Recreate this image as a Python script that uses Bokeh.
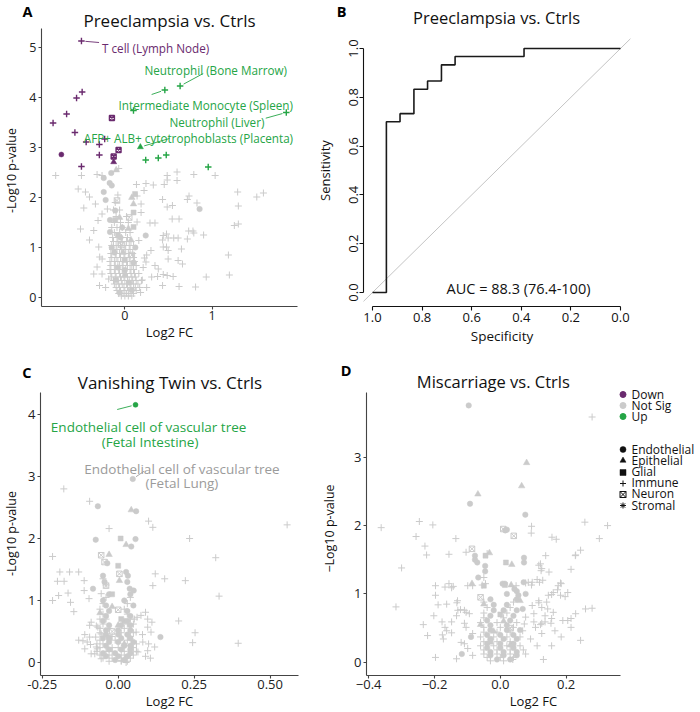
import math
from bokeh.plotting import figure
from bokeh.models import (Label, Legend, LegendItem, FixedTicker, Range1d, ColumnDataSource,
                          LinearAxis, Title)
from bokeh.layouts import row, column
from bokeh.embed import file_html
from bokeh.resources import INLINE
from bokeh.core.properties import value

# ============================================================ DATA
# ---- Panel A: Preeclampsia vs. Ctrls  (log2 FC, -log10 p, cell class)
a_title = "Preeclampsia vs. Ctrls"
a_up = [
    (0.633, 4.23, "Immune"), (0.458, 4.15, "Immune"), (0.099, 3.74, "Immune"),
    (1.849, 3.70, "Immune"), (0.178, 3.01, "Epithelial"), (0.239, 2.75, "Immune"),
    (0.383, 2.79, "Immune"), (0.474, 2.85, "Immune"), (0.955, 2.61, "Immune"),
]
a_down = [
    (-0.497, 5.13, "Immune"), (-0.489, 4.11, "Immune"), (-0.553, 3.99, "Immune"),
    (-0.667, 3.67, "Immune"), (-0.822, 3.49, "Immune"), (-0.572, 3.30, "Immune"),
    (-0.443, 3.11, "Immune"), (-0.231, 3.17, "Immune"), (-0.727, 2.86, "Endothelial"),
    (-0.292, 3.06, "Immune"), (-0.292, 2.85, "Immune"), (-0.148, 3.59, "Neuron"),
    (-0.072, 2.95, "Neuron"), (-0.128, 2.82, "Neuron"), (-0.128, 2.71, "Epithelial"),
    (-0.497, 2.62, "Immune"),
]
a_ns_immune = [
    (-0.792, 2.44), (-0.497, 2.44), (-0.318, 2.46), (-0.261, 2.44), (-0.07, 2.58),
    (0.485, 2.44), (0.598, 2.51), (0.79, 2.46), (1.034, 2.44), (0.133, 2.26),
    (0.242, 2.28), (0.326, 2.25), (0.451, 2.26), (0.598, 2.34), (0.485, 2.35),
    (0.22, 2.14), (1.292, 2.11), (1.3, 1.83), (1.511, 2.01), (1.587, 2.09),
    (0.432, 1.96), (0.735, 2.03), (0.716, 1.96), (0.826, 1.89), (0.485, 1.81),
    (0.545, 1.84), (0.186, 1.87), (0.186, 1.70), (0.542, 1.57), (0.621, 1.57),
    (0.288, 1.49), (0.345, 1.49), (1.254, 1.44), (1.3, 1.47), (0.477, 1.27),
    (0.44, 1.24), (0.432, 1.15), (0.496, 1.19), (0.56, 1.19), (0.61, 1.19),
    (0.716, 1.17), (0.731, 1.33), (0.78, 1.33), (0.79, 1.29), (0.902, 1.25),
    (0.44, 1.01), (0.477, 1.01), (0.496, 0.94), (0.648, 0.97), (0.299, 0.94),
    (0.25, 0.85), (0.224, 0.79), (0.242, 0.71), (1.186, 0.85), (0.496, 0.77),
    (0.61, 0.74), (0.66, 0.67), (0.345, 0.64), (0.383, 0.57), (1.197, 0.45),
    (0.932, 0.41), (0.44, 0.46), (0.375, 0.42), (0.307, 0.41), (0.485, 0.44),
    (0.553, 0.42), (0.621, 0.22), (0.81, 0.21), (0.432, 0.24),
    (-0.534, 2.17), (-0.451, 2.11), (-0.405, 2.01), (-0.337, 1.87), (-0.47, 1.79),
    (-0.261, 1.67), (-0.307, 1.54), (-0.356, 1.34), (-0.508, 1.37), (-0.405, 1.15),
    (-0.299, 1.01), (-0.288, 0.81), (-0.26, 0.77), (-0.318, 0.61), (-0.356, 0.47),
    (-0.261, 0.47), (-0.29, 0.24), (-0.185, 0.37), (-0.2, 1.77), (0.16, 1.14),
    (0.14, 1.51), (0.14, 2.03), (0.21, 0.6), (0.2, 0.35), (0.25, 0.2),
    (0.18, 0.1), (-0.22, 0.2),
    (-0.04, 0.03), (0.0, 0.03), (0.04, 0.03), (0.08, 0.03),
    (-0.07, 0.08), (-0.02, 0.08), (0.02, 0.08), (0.06, 0.08), (0.1, 0.08),
    (-0.09, 0.14), (-0.05, 0.14), (0.0, 0.14), (0.04, 0.14), (0.09, 0.14), (0.13, 0.14),
    (-0.1, 0.2), (-0.06, 0.2), (-0.01, 0.2), (0.03, 0.2), (0.07, 0.2), (0.12, 0.2), (0.17, 0.2),
    (-0.12, 0.27), (-0.07, 0.27), (-0.03, 0.27), (0.02, 0.27), (0.06, 0.27), (0.1, 0.27), (0.15, 0.27),
    (-0.13, 0.34), (-0.08, 0.34), (-0.04, 0.34), (0.0, 0.34), (0.05, 0.34), (0.09, 0.34), (0.13, 0.34), (0.19, 0.34),
    (-0.15, 0.41), (-0.1, 0.41), (-0.05, 0.41), (-0.01, 0.41), (0.03, 0.41), (0.08, 0.41), (0.12, 0.41),
    (-0.16, 0.48), (-0.11, 0.48), (-0.06, 0.48), (-0.02, 0.48), (0.02, 0.48), (0.07, 0.48), (0.11, 0.48), (0.16, 0.48),
    (-0.17, 0.56), (-0.12, 0.56), (-0.07, 0.56), (-0.03, 0.56), (0.01, 0.56), (0.06, 0.56), (0.1, 0.56),
    (-0.16, 0.64), (-0.11, 0.64), (-0.06, 0.64), (-0.02, 0.64), (0.03, 0.64), (0.08, 0.64), (0.13, 0.64),
    (-0.17, 0.72), (-0.12, 0.72), (-0.08, 0.72), (-0.03, 0.72), (0.02, 0.72), (0.06, 0.72), (0.11, 0.72),
    (-0.15, 0.8), (-0.1, 0.8), (-0.05, 0.8), (0.0, 0.8), (0.05, 0.8), (0.1, 0.8),
    (-0.16, 0.88), (-0.11, 0.88), (-0.06, 0.88), (-0.01, 0.88), (0.04, 0.88), (0.09, 0.88),
    (-0.14, 0.96), (-0.09, 0.96), (-0.04, 0.96), (0.01, 0.96), (0.06, 0.96),
    (-0.15, 1.04), (-0.1, 1.04), (-0.05, 1.04), (0.0, 1.04), (0.05, 1.04), (0.1, 1.04),
    (-0.13, 1.12), (-0.08, 1.12), (-0.03, 1.12), (0.02, 1.12), (0.07, 1.12),
    (-0.14, 1.2), (-0.09, 1.2), (-0.04, 1.2), (0.03, 1.2),
    (-0.12, 1.3), (-0.06, 1.3), (0.01, 1.3), (0.06, 1.3),
    (-0.15, 1.4), (-0.09, 1.4), (-0.03, 1.4), (-0.12, 1.5), (-0.05, 1.5), (0.04, 1.5),
    (-0.1, 1.62), (0.02, 1.62), (-0.13, 1.75), (-0.06, 1.75), (-0.11, 1.9), (-0.08, 2.05),
]
a_ns_endo = [
    (-0.242, 2.39), (-0.156, 2.49), (-0.174, 2.29), (-0.15, 2.24), (-0.242, 2.11),
    (-0.22, 1.95), (-0.11, 1.74), (-0.17, 1.55), (-0.17, 1.31), (-0.03, 1.4),
    (0.239, 1.24), (0.856, 1.77), (-0.12, 0.9), (-0.08, 0.6), (0.05, 0.3),
    (-0.15, 1.0), (0.1, 0.7), (-0.05, 1.2), (0.12, 1.0), (-0.1, 0.35),
    (0.0, 0.55), (0.08, 0.15), (-0.06, 0.1),
]
a_ns_epi = [(-0.099, 2.55), (0.099, 1.87), (0.08, 2.0), (0.04, 1.38), (-0.02, 0.9),
            (0.07, 1.15), (0.0, 0.45), (-0.06, 1.6)]
a_ns_glial = [(0.117, 2.07), (0.1, 1.70), (-0.11, 1.55), (0.1, 1.41), (0.0, 0.75), (-0.08, 1.25)]
a_ns_neuron = [(-0.09, 1.94), (0.05, 1.6), (-0.04, 1.05), (0.08, 0.85)]
a_xticks = [0, 1]
a_xtick_labels = ["0", "1"]
a_yticks = [0, 1, 2, 3, 4, 5]

# ---- Panel B: ROC curve, Preeclampsia vs. Ctrls
b_spec = [1.0, 0.944, 0.944, 0.889, 0.889, 0.833, 0.833, 0.778, 0.778,
          0.722, 0.722, 0.667, 0.667, 0.389, 0.389, 0.0]
b_sens = [0.0, 0.0, 0.7, 0.7, 0.733, 0.733, 0.833, 0.833, 0.867,
          0.867, 0.933, 0.933, 0.967, 0.967, 1.0, 1.0]
b_chance_spec = [1.04, -0.04]          # chance diagonal: sensitivity = 1 - specificity
b_auc_text = "AUC = 88.3 (76.4-100)"
b_ticks = [0.0, 0.2, 0.4, 0.6, 0.8, 1.0]
b_tick_labels = ["0.0", "0.2", "0.4", "0.6", "0.8", "1.0"]

# ---- Panel C: Vanishing Twin vs. Ctrls
c_title = "Vanishing Twin vs. Ctrls"
c_up = [(0.057, 4.156, "Endothelial")]
c_ns_immune = [
    (-0.179, 2.80), (-0.094, 2.60), (-0.03, 2.16), (0.1, 2.28), (0.114, 2.18),
    (0.235, 2.0), (0.556, 2.22), (0.321, 1.69), (0.332, 1.07), (0.221, 1.32),
    (0.153, 1.35), (0.122, 1.43), (0.114, 1.24), (0.199, 0.67), (0.253, 0.48),
    (0.245, 0.32), (0.395, 0.31), (0.106, 0.07), (-0.216, 1.71), (-0.192, 1.46),
    (-0.2, 1.31), (-0.178, 1.31), (-0.16, 1.46), (-0.13, 1.46), (-0.216, 1.0),
    (-0.196, 1.08), (-0.165, 1.12), (-0.157, 0.97), (-0.146, 0.82), (-0.112, 1.32),
    (-0.112, 1.16), (-0.096, 1.03), (-0.056, 1.11), (-0.116, 0.35), (-0.102, 0.33),
    (-0.091, 0.29), (-0.089, 0.65), (-0.072, 0.59), (-0.094, 0.41), (-0.074, 0.41),
    (-0.067, 0.57), (-0.056, 0.46), (-0.094, 0.6), (-0.072, 0.25), (-0.077, 0.14),
    (0.053, 0.7), (0.062, 0.73), (0.075, 0.76), (0.09, 0.81), (0.097, 0.7),
    (0.111, 0.65), (0.097, 0.57), (0.108, 0.49), (0.059, 0.49), (0.081, 0.33),
    (0.097, 0.19), (0.065, 0.17), (-0.089, 0.14), (-0.11, 0.22), (-0.069, 0.22),
    (-0.056, 0.06), (0.01, 0.03), (0.026, 0.0), (-0.11, 0.45), (-0.13, 0.36),
    (0.08, 0.45), (0.1, 0.3), (0.12, 0.25), (0.09, 0.1),
    (-0.03, 0.02), (0.01, 0.02), (0.03, 0.02),
    (-0.05, 0.07), (-0.02, 0.07), (0.02, 0.07), (0.04, 0.07),
    (-0.06, 0.12), (-0.03, 0.12), (0.01, 0.12), (0.05, 0.12),
    (-0.07, 0.18), (-0.04, 0.18), (-0.02, 0.18), (0.02, 0.18), (0.06, 0.18),
    (-0.06, 0.24), (-0.02, 0.24), (0.0, 0.24), (0.05, 0.24),
    (-0.07, 0.3), (-0.05, 0.3), (0.02, 0.3), (0.06, 0.3),
    (-0.06, 0.36), (-0.01, 0.36), (0.03, 0.36), (-0.05, 0.42), (-0.02, 0.42), (0.04, 0.42),
    (-0.06, 0.48), (0.01, 0.48), (0.05, 0.48), (-0.06, 0.55), (-0.03, 0.55), (0.02, 0.55),
    (-0.05, 0.62), (0.03, 0.62), (0.05, 0.62), (-0.06, 0.7), (-0.04, 0.7), (0.04, 0.7),
    (-0.05, 0.78), (0.03, 0.78), (-0.06, 0.86), (0.02, 0.86),
    (-0.05, 0.95), (0.03, 0.95), (-0.04, 1.05), (0.04, 1.05), (-0.04, 1.25), (-0.05, 1.35),
]
c_ns_endo = [
    (-0.067, 2.52), (-0.074, 1.98), (0.059, 2.44), (0.057, 1.99), (0.043, 1.87),
    (0.139, 0.41), (0.048, 2.96), (-0.083, 1.19), (0.051, 1.16), (0.038, 1.19),
    (-0.01, 0.04), (0.02, 0.04), (-0.04, 0.1), (0.0, 0.1), (0.03, 0.1),
    (-0.05, 0.15), (-0.01, 0.15), (0.04, 0.15), (-0.03, 0.21), (0.01, 0.21), (0.04, 0.21),
    (-0.04, 0.27), (0.02, 0.27), (0.04, 0.27), (-0.03, 0.33), (0.0, 0.33), (0.05, 0.33),
    (-0.05, 0.39), (-0.03, 0.39), (0.01, 0.39), (0.04, 0.39),
    (-0.04, 0.45), (0.0, 0.45), (0.03, 0.45), (-0.04, 0.52), (0.0, 0.52), (0.04, 0.52),
    (-0.03, 0.6), (0.01, 0.6), (0.04, 0.6), (-0.05, 0.67), (0.02, 0.67), (0.03, 0.67),
    (-0.04, 0.75), (0.04, 0.75), (-0.03, 0.83), (0.03, 0.83), (-0.04, 0.92), (0.05, 0.92),
    (-0.05, 1.0), (0.02, 1.0), (-0.03, 1.1), (0.04, 1.1), (-0.045, 1.3), (0.03, 1.3),
    (0.032, 1.4), (-0.05, 1.4), (0.026, 1.46), (-0.036, 1.6),
]
c_ns_epi = [(0.043, 2.46), (0.026, 1.90), (-0.03, 1.74), (0.004, 1.32), (-0.02, 0.9),
            (0.0, 0.6), (0.02, 0.3), (-0.06, 0.8)]
c_ns_glial = [(0.008, 2.0), (0.0, 1.56), (-0.02, 1.1), (0.01, 0.7), (-0.03, 0.4)]
c_ns_neuron = [(-0.056, 1.73), (-0.045, 1.62), (0.004, 1.43), (-0.04, 1.24), (0.0, 0.85), (-0.02, 0.5)]
c_xticks = [-0.25, 0, 0.25, 0.5]
c_xtick_labels = ["-0.25", "0.00", "0.25", "0.50"]
c_yticks = [0, 1, 2, 3, 4]

# ---- Panel D: Miscarriage vs. Ctrls
d_title = "Miscarriage vs. Ctrls"
d_ns_immune = [
    (0.279, 3.59), (-0.246, 2.06), (-0.205, 2.01), (-0.362, 1.97), (-0.256, 1.84),
    (-0.229, 1.70), (-0.224, 1.57), (-0.135, 1.81), (-0.3, 1.38), (-0.156, 1.58),
    (0.095, 1.99), (0.094, 1.89), (0.257, 2.05), (0.326, 2.0), (0.301, 1.81),
    (0.157, 1.83), (0.17, 1.80), (0.244, 1.64), (0.228, 1.56), (0.138, 1.56),
    (0.215, 1.36), (0.122, 1.44), (0.126, 1.37), (-0.317, 0.81), (-0.234, 0.55),
    (-0.197, 0.07), (-0.133, 0.05), (0.131, 0.04), (0.244, 0.32), (0.279, 0.79),
    (0.205, 0.61), (0.102, 0.59), (0.126, 0.57), (0.154, 0.57), (0.176, 1.12),
    (0.183, 0.98), (0.156, 0.99), (0.141, 0.88), (0.117, 0.87), (0.097, 0.83),
    (0.102, 0.71), (0.136, 0.68), (0.161, 0.73), (0.097, 1.17), (0.112, 1.21),
    (0.077, 1.16), (0.048, 1.12), (-0.197, 1.12), (-0.168, 1.10), (-0.148, 1.09),
    (-0.197, 0.98), (-0.189, 0.84), (-0.202, 0.68), (-0.177, 0.59), (-0.168, 0.51),
    (-0.176, 0.40), (-0.148, 0.43), (-0.132, 0.87), (-0.121, 0.77), (-0.133, 0.68),
    (-0.104, 0.73), (-0.119, 0.29), (-0.099, 0.20), (-0.084, 0.10), (-0.099, 1.12),
    (-0.084, 1.12), (-0.04, 1.59), (-0.05, 1.24), (-0.055, 1.13), (-0.045, 1.15),
    (0.085, 1.17), (0.095, 1.13), (0.119, 1.17), (0.129, 1.20), (0.148, 1.32),
    (0.117, 1.42), (0.124, 1.34), (0.229, 1.57), (0.183, 1.16), (0.174, 1.06),
    (0.161, 1.02), (0.146, 0.98), (0.117, 0.90), (0.126, 0.80), (0.144, 0.78),
    (0.197, 0.96), (0.205, 1.02), (0.229, 0.71), (0.215, 0.64), (0.259, 0.78),
    (0.156, 0.64), (0.136, 0.59), (0.122, 0.55), (0.107, 0.51), (0.077, 0.66),
    (0.073, 0.56), (0.068, 0.46), (0.19, 0.61), (0.166, 0.46), (0.126, 0.42),
    (-0.156, 1.15), (-0.143, 1.11), (-0.104, 1.61), (-0.163, 0.85), (-0.13, 0.90),
    (-0.109, 0.76), (-0.094, 0.71), (-0.148, 0.59), (-0.109, 0.57), (-0.129, 0.76),
    (-0.104, 0.51), (-0.084, 0.42), (-0.163, 0.46), (-0.221, 0.39), (-0.173, 0.34),
    (-0.109, 0.27), (0.092, 0.34), (0.112, 0.24), (0.077, 0.12), (0.156, 0.24),
    (0.185, 0.37), (0.215, 0.51), (0.038, 0.04), (0.185, 1.15),
    (-0.03, 0.02), (0.01, 0.02), (-0.04, 0.07), (0.0, 0.07), (0.04, 0.07),
    (-0.05, 0.12), (-0.01, 0.12), (0.03, 0.12), (-0.05, 0.18), (-0.01, 0.18), (0.03, 0.18), (0.07, 0.18),
    (-0.06, 0.24), (-0.02, 0.24), (0.02, 0.24), (0.06, 0.24), (-0.05, 0.3), (-0.01, 0.3), (0.03, 0.3),
    (-0.06, 0.37), (-0.02, 0.37), (0.02, 0.37), (0.06, 0.37), (-0.05, 0.44), (-0.01, 0.44), (0.03, 0.44),
    (-0.05, 0.51), (0.0, 0.51), (0.04, 0.51), (-0.06, 0.58), (-0.01, 0.58), (0.05, 0.58),
    (-0.05, 0.65), (0.01, 0.65), (-0.05, 0.72), (0.02, 0.72), (-0.04, 0.8), (0.03, 0.8),
    (-0.05, 0.88), (0.04, 0.88),
]
d_ns_endo = [
    (-0.096, 3.76), (-0.092, 2.32), (0.076, 2.16), (0.015, 1.93), (0.02, 1.94),
    (-0.077, 1.56), (-0.077, 1.50), (-0.07, 1.46), (-0.046, 1.41), (-0.046, 1.33),
    (-0.067, 1.24), (0.072, 1.53), (0.072, 1.46), (0.071, 1.17), (0.007, 1.15),
    (0.014, 1.15), (0.043, 1.07), (0.05, 1.04), (0.055, 0.98), (0.068, 0.78),
    (-0.117, 0.12), (-0.089, 0.37),
    (-0.01, 0.04), (0.03, 0.04), (-0.03, 0.1), (0.01, 0.1), (0.05, 0.1),
    (-0.03, 0.15), (0.01, 0.15), (0.05, 0.15), (-0.04, 0.21), (0.0, 0.21), (0.04, 0.21),
    (-0.04, 0.27), (0.0, 0.27), (0.04, 0.27), (-0.03, 0.34), (0.01, 0.34), (0.05, 0.34),
    (-0.04, 0.4), (0.0, 0.4), (0.04, 0.4), (-0.03, 0.47), (0.02, 0.47), (0.06, 0.47),
    (-0.03, 0.54), (0.02, 0.54), (-0.04, 0.61), (0.03, 0.61), (-0.03, 0.68), (0.04, 0.68),
    (-0.02, 0.76), (0.01, 0.76), (0.05, 0.76), (-0.02, 0.84), (0.02, 0.84),
    (-0.03, 0.92), (0.05, 0.92), (0.077, 1.0), (0.02, 1.0),
]
d_ns_epi = [(0.08, 2.92), (0.065, 2.58), (-0.068, 2.46), (-0.033, 1.60), (0.035, 1.43),
            (-0.086, 1.15), (0.033, 1.13), (-0.05, 0.85), (0.01, 0.6), (-0.02, 0.45),
            (0.03, 0.25), (0.06, 0.9), (-0.06, 0.55)]
d_ns_glial = [(-0.045, 1.56), (0.017, 1.46), (-0.05, 1.12), (0.014, 1.13), (0.0, 0.7), (-0.03, 0.3)]
d_ns_neuron = [(-0.086, 1.66), (0.009, 1.95), (0.041, 1.85), (-0.06, 0.95), (0.03, 0.5)]
d_xticks = [-0.4, -0.2, 0, 0.2]
d_xtick_labels = ["\u22120.4", "\u22120.2", "0.0", "0.2"]
d_yticks = [0, 1, 2, 3]

status_levels = ["Down", "Not Sig", "Up"]
cell_levels = ["Endothelial", "Epithelial", "Glial", "Immune", "Neuron", "Stromal"]

# ============================================================ STYLE / LAYOUT
FONT = "Open Sans"
STATUS_COLOR = {"Down": "#6a2a6e", "Not Sig": "#cbcbcb", "Up": "#25a546"}
LABEL_GRAY = "#9b9b9b"
MARKER = {"Endothelial": "circle", "Epithelial": "triangle", "Glial": "square",
          "Immune": "cross", "Neuron": "square_x", "Stromal": "asterisk"}
SIZE = {"Endothelial": 5.5, "Epithelial": 6.5, "Glial": 5.0, "Immune": 7.0,
        "Neuron": 5.5, "Stromal": 6.5}


class Geo:
    """Frame position on the page (px) and the data ranges shown in it."""
    def __init__(self, left, right, top, bottom, xr, yr):
        self.l, self.r, self.t, self.b = left, right, top, bottom
        self.xr, self.yr = xr, yr

    def dx(self, px):
        return self.xr[0] + (px - self.l) / (self.r - self.l) * (self.xr[1] - self.xr[0])

    def dy(self, py):
        return self.yr[0] + (self.b - py) / (self.b - self.t) * (self.yr[1] - self.yr[0])

    def px(self, x):
        return self.l + (x - self.xr[0]) / (self.xr[1] - self.xr[0]) * (self.r - self.l)

    def py(self, y):
        return self.b - (y - self.yr[0]) / (self.yr[1] - self.yr[0]) * (self.b - self.t)


def make_fig(g, fig_x, fig_y, w, h):
    p = figure(width=w, height=h, x_range=Range1d(*g.xr), y_range=Range1d(*g.yr),
               output_backend="svg", toolbar_location=None,
               min_border_left=g.l - fig_x, min_border_right=fig_x + w - g.r,
               min_border_top=g.t - fig_y, min_border_bottom=fig_y + h - g.b)
    p.grid.visible = False
    p.outline_line_color = None
    p.background_fill_color = "white"
    p.border_fill_color = "white"
    for ax in p.axis:
        ax.axis_label = None
    return p


def style_axes(p, size, color="#444444", lab_color="#222222", tick_out=3):
    for ax in p.axis:
        ax.axis_line_color = color
        ax.axis_line_width = 1.1
        ax.major_tick_line_color = color
        ax.major_tick_line_width = 1.1
        ax.major_tick_in = 0
        ax.major_tick_out = tick_out
        ax.minor_tick_line_color = None
        ax.major_label_text_font = FONT
        ax.major_label_text_font_size = size
        ax.major_label_text_color = lab_color
        ax.axis_label_text_font = FONT
        ax.axis_label_text_font_size = "13px"
        ax.axis_label_text_font_style = "normal"
        ax.axis_label_text_color = "#111111"
    p.xaxis.major_label_standoff = 1
    p.yaxis.major_label_standoff = 2
    p.xaxis.axis_label_standoff = 0


def set_ticks(axis, ticks, labels=None):
    axis.ticker = FixedTicker(ticks=ticks, minor_ticks=[])
    if labels is not None:
        axis.major_label_overrides = dict(zip(ticks, labels))


def add_letter(p, g, letter, center_y, standoff):
    """Panel letter: the single label of an extra, line-less left axis."""
    p.extra_y_ranges = {"letter": Range1d(0, g.b - g.t)}
    v = float(g.b - center_y)
    ax = LinearAxis(y_range_name="letter", axis_line_color=None, major_tick_line_color=None,
                    minor_tick_line_color=None, major_tick_out=0, major_tick_in=0,
                    major_label_standoff=standoff, major_label_text_font=FONT,
                    major_label_text_font_size="14.5px", major_label_text_font_style="bold",
                    major_label_text_color="#000000")
    ax.ticker = FixedTicker(ticks=[v], minor_ticks=[])
    ax.major_label_overrides = {v: letter}
    p.add_layout(ax, "left")


def add_side_title(p, text, top_offset, size="12.5px"):
    """Rotated y-axis title in the outer left panel; its upper end sits top_offset px below the frame top."""
    p.add_layout(Title(text=text, align="right", offset=top_offset, standoff=0,
                       text_font=FONT, text_font_size=size, text_font_style="normal",
                       text_color="#111111"), "left")


def add_label(p, g, px, py, text, size, color="#111111", align="left",
              baseline="alphabetic"):
    p.add_layout(Label(x=g.dx(px), y=g.dy(py), text=text, text_font=FONT,
                       text_font_size=f"{size}px", text_color=color, text_align=align,
                       text_baseline=baseline))


def add_points(p, groups):
    d = dict(x=[], y=[], marker=[], size=[], color=[], falpha=[], lw=[])
    for pts, status in groups:
        col = STATUS_COLOR[status]
        for x, y, cell in pts:
            mk = MARKER[cell]
            hollow = mk in ("cross", "asterisk", "square_x")
            d["x"].append(x)
            d["y"].append(y)
            d["marker"].append(mk)
            d["size"].append(SIZE[cell] if status == "Not Sig" else SIZE[cell] - 0.5)
            d["color"].append(col)
            d["falpha"].append(0.0 if hollow else 1.0)
            d["lw"].append((1.0 if status == "Not Sig" else 1.4) if hollow else 0.5)
    p.scatter(x="x", y="y", marker="marker", size="size", fill_color="color",
              fill_alpha="falpha", line_color="color", line_width="lw",
              source=ColumnDataSource(d))


def ns_groups(immune, endo, epi, glial, neuron):
    out = []
    for pts, cell in ((immune, "Immune"), (endo, "Endothelial"), (epi, "Epithelial"),
                      (glial, "Glial"), (neuron, "Neuron")):
        out.append(([(x, y, cell) for x, y in pts], "Not Sig"))
    return out


def repel_label(p, g, pt, text, color, size, tx, ty, ex, ey, align="left"):
    """Label at page (tx, ty) with a leader segment from near the point to page (ex, ey)."""
    ppx, ppy = g.px(pt[0]), g.py(pt[1])
    vx, vy = ex - ppx, ey - ppy
    ln = math.hypot(vx, vy)
    sx, sy = ppx + vx / ln * 4.0, ppy + vy / ln * 4.0
    p.segment(x0=[g.dx(sx)], y0=[g.dy(sy)], x1=[g.dx(ex)], y1=[g.dy(ey)],
              line_color=color, line_width=0.9)
    add_label(p, g, tx, ty, text, size, color=color, align=align)


ROW1_H, ROW2_H = 350, 362
A_W, C_W = 312, 318

# ============================================================ PANEL A
gA = Geo(39, 297, 0, 306, (-0.9545, 1.9773), (-0.18, 5.94))
pA = make_fig(gA, 0, 0, A_W, ROW1_H)
add_points(pA, ns_groups(a_ns_immune, a_ns_endo, a_ns_epi, a_ns_glial, a_ns_neuron)
           + [(a_down, "Down"), (a_up, "Up")])
style_axes(pA, "12.5px")
set_ticks(pA.xaxis[0], a_xticks, a_xtick_labels)
set_ticks(pA.yaxis[0], a_yticks)
pA.yaxis[0].bounds = (-0.18, 5.38)
pA.xaxis[0].axis_label = "Log2 FC"
add_letter(pA, gA, "A", 8, -6)
add_side_title(pA, "-Log10 p-value", 127.5)
add_label(pA, gA, 168, 20, a_title, 17, align="center")
repel_label(pA, gA, a_down[0], "T cell (Lymph Node)", STATUS_COLOR["Down"], 11.7, 100, 47, 97, 42)
repel_label(pA, gA, a_up[0], "Neutrophil (Bone Marrow)", STATUS_COLOR["Up"], 11.7, 142.7, 69.3, 202, 73)
repel_label(pA, gA, a_up[1], "Intermediate Monocyte (Spleen)", STATUS_COLOR["Up"], 11.7, 116.7, 104.7, 150, 94)
repel_label(pA, gA, a_up[3], "Neutrophil (Liver)", STATUS_COLOR["Up"], 11.7, 168, 121, 265, 117.7)
repel_label(pA, gA, a_up[4], "AFP+ ALB+ cytotrophoblasts (Placenta)", STATUS_COLOR["Up"], 11.7, 81.7, 137.3, 168, 138)

# ============================================================ PANEL B
gB = Geo(363, 640, 0, 306, (1.0363, -0.0806), (-0.0574, 1.1967))
pB = make_fig(gB, A_W, 0, 700 - A_W, ROW1_H)
pB.line(x=b_chance_spec, y=[1 - s for s in b_chance_spec], line_color="#c4c4c4", line_width=1)
pB.line(x=b_spec, y=b_sens, line_color="#1a1a1a", line_width=1.6)
style_axes(pB, "13px", color="#111111", lab_color="#111111", tick_out=4)
pB.xaxis.major_label_standoff = 2
pB.yaxis.major_label_standoff = 1
set_ticks(pB.xaxis[0], b_ticks, b_tick_labels)
set_ticks(pB.yaxis[0], b_ticks, b_tick_labels)
for ax in pB.axis:
    ax.bounds = (0, 1)
pB.yaxis.major_label_orientation = "vertical"
pB.xaxis[0].axis_label = "Specificity"
pB.xaxis[0].axis_label_text_font_size = "13.5px"
pB.xaxis.axis_label_standoff = 2
add_letter(pB, gB, "B", 8, 0)
add_side_title(pB, "Sensitivity", 139.7, size="13px")
add_label(pB, gB, 496, 16.5, a_title, 16.5, align="center")
add_label(pB, gB, 518, 288, b_auc_text, 14.5, align="center")

# ============================================================ PANEL C
gC = Geo(39, 298, ROW1_H, 675, (-0.2557, 0.5934), (-0.2097, 5.032))
pC = make_fig(gC, 0, ROW1_H, C_W, ROW2_H)
add_points(pC, ns_groups(c_ns_immune, c_ns_endo, c_ns_epi, c_ns_glial, c_ns_neuron)
           + [(c_up, "Up")])
style_axes(pC, "13px")
set_ticks(pC.xaxis[0], c_xticks, c_xtick_labels)
set_ticks(pC.yaxis[0], c_yticks)
pC.yaxis[0].bounds = (-0.2097, 4.36)
pC.xaxis[0].axis_label = "Log2 FC"
add_letter(pC, gC, "C", 372, -6)
add_side_title(pC, "-Log10 p-value", 140.5)
add_label(pC, gC, 169, 381.5, c_title, 17, align="center")
repel_label(pC, gC, c_up[0], "Endothelial cell of vascular tree", STATUS_COLOR["Up"], 13.5,
            147.5, 426, 116, 409, align="center")
add_label(pC, gC, 149, 441.5, "(Fetal Intestine)", 13.5, color=STATUS_COLOR["Up"], align="center")
repel_label(pC, gC, c_ns_endo[6], "Endothelial cell of vascular tree", LABEL_GRAY, 13.5,
            181, 468, 143, 470.7, align="center")
add_label(pC, gC, 181, 482.5, "(Fetal Lung)", 13.5, color=LABEL_GRAY, align="center")

# ============================================================ PANEL D
gD = Geo(363, 700, ROW1_H, 675, (-0.4066, 0.6084), (-0.1947, 4.5637))
pD = make_fig(gD, C_W, ROW1_H, 700 - C_W, ROW2_H)
add_points(pD, ns_groups(d_ns_immune, d_ns_endo, d_ns_epi, d_ns_glial, d_ns_neuron))
style_axes(pD, "13px")
set_ticks(pD.xaxis[0], d_xticks, d_xtick_labels)
set_ticks(pD.yaxis[0], d_yticks)
pD.xaxis[0].bounds = (-0.4066, 0.3645)
pD.yaxis[0].bounds = (-0.1947, 3.95)
pD.xaxis[0].axis_label = "Log2 FC"
add_letter(pD, gD, "D", 370, 0)
add_side_title(pD, "\u2212Log10 p-value", 133.9)
add_label(pD, gD, 491, 381, d_title, 16.5, align="center")

# legends: one single-row legend per key, so rows sit 11 px apart as in the figure
ROW_BOX, GLYPH_W = 22, 15
NAN = float("nan")


def legend_row(text, renderer, glyph_cx, cy):
    loc = (glyph_cx - GLYPH_W / 2 - gD.l, gD.b - (cy + ROW_BOX / 2))
    lg = Legend(items=[LegendItem(label=value(text), renderers=[renderer])], location=loc)
    lg.label_text_font = FONT
    lg.label_text_font_size = "12px"
    lg.label_text_color = "#111111"
    lg.glyph_width = GLYPH_W
    lg.glyph_height = ROW_BOX
    lg.label_height = ROW_BOX
    lg.spacing = 0
    lg.padding = 0
    lg.margin = 0
    lg.label_standoff = 2
    lg.border_line_color = None
    lg.background_fill_alpha = 0.0
    pD.add_layout(lg)


status_rows = [394.3, 405.3, 416.3]
cell_rows = [449.0, 460.3, 471.7, 482.7, 493.7, 505.0]
LEGEND_X = 619.0
for s, cy in zip(status_levels, status_rows):
    r = pD.scatter(x=[NAN], y=[NAN], marker="circle", size=6, fill_color=STATUS_COLOR[s],
                   line_color=STATUS_COLOR[s])
    legend_row(s, r, LEGEND_X, cy)
for c, cy in zip(cell_levels, cell_rows):
    mk = MARKER[c]
    hollow = mk in ("cross", "asterisk", "square_x")
    r = pD.scatter(x=[NAN], y=[NAN], marker=mk, size=6, fill_color="#111111",
                   fill_alpha=0.0 if hollow else 1.0, line_color="#111111",
                   line_width=1.0 if hollow else 0.5)
    legend_row(c, r, LEGEND_X, cy)

layout = column(row(pA, pB), row(pC, pD))
open("out.html", "w").write(file_html(layout, INLINE))
